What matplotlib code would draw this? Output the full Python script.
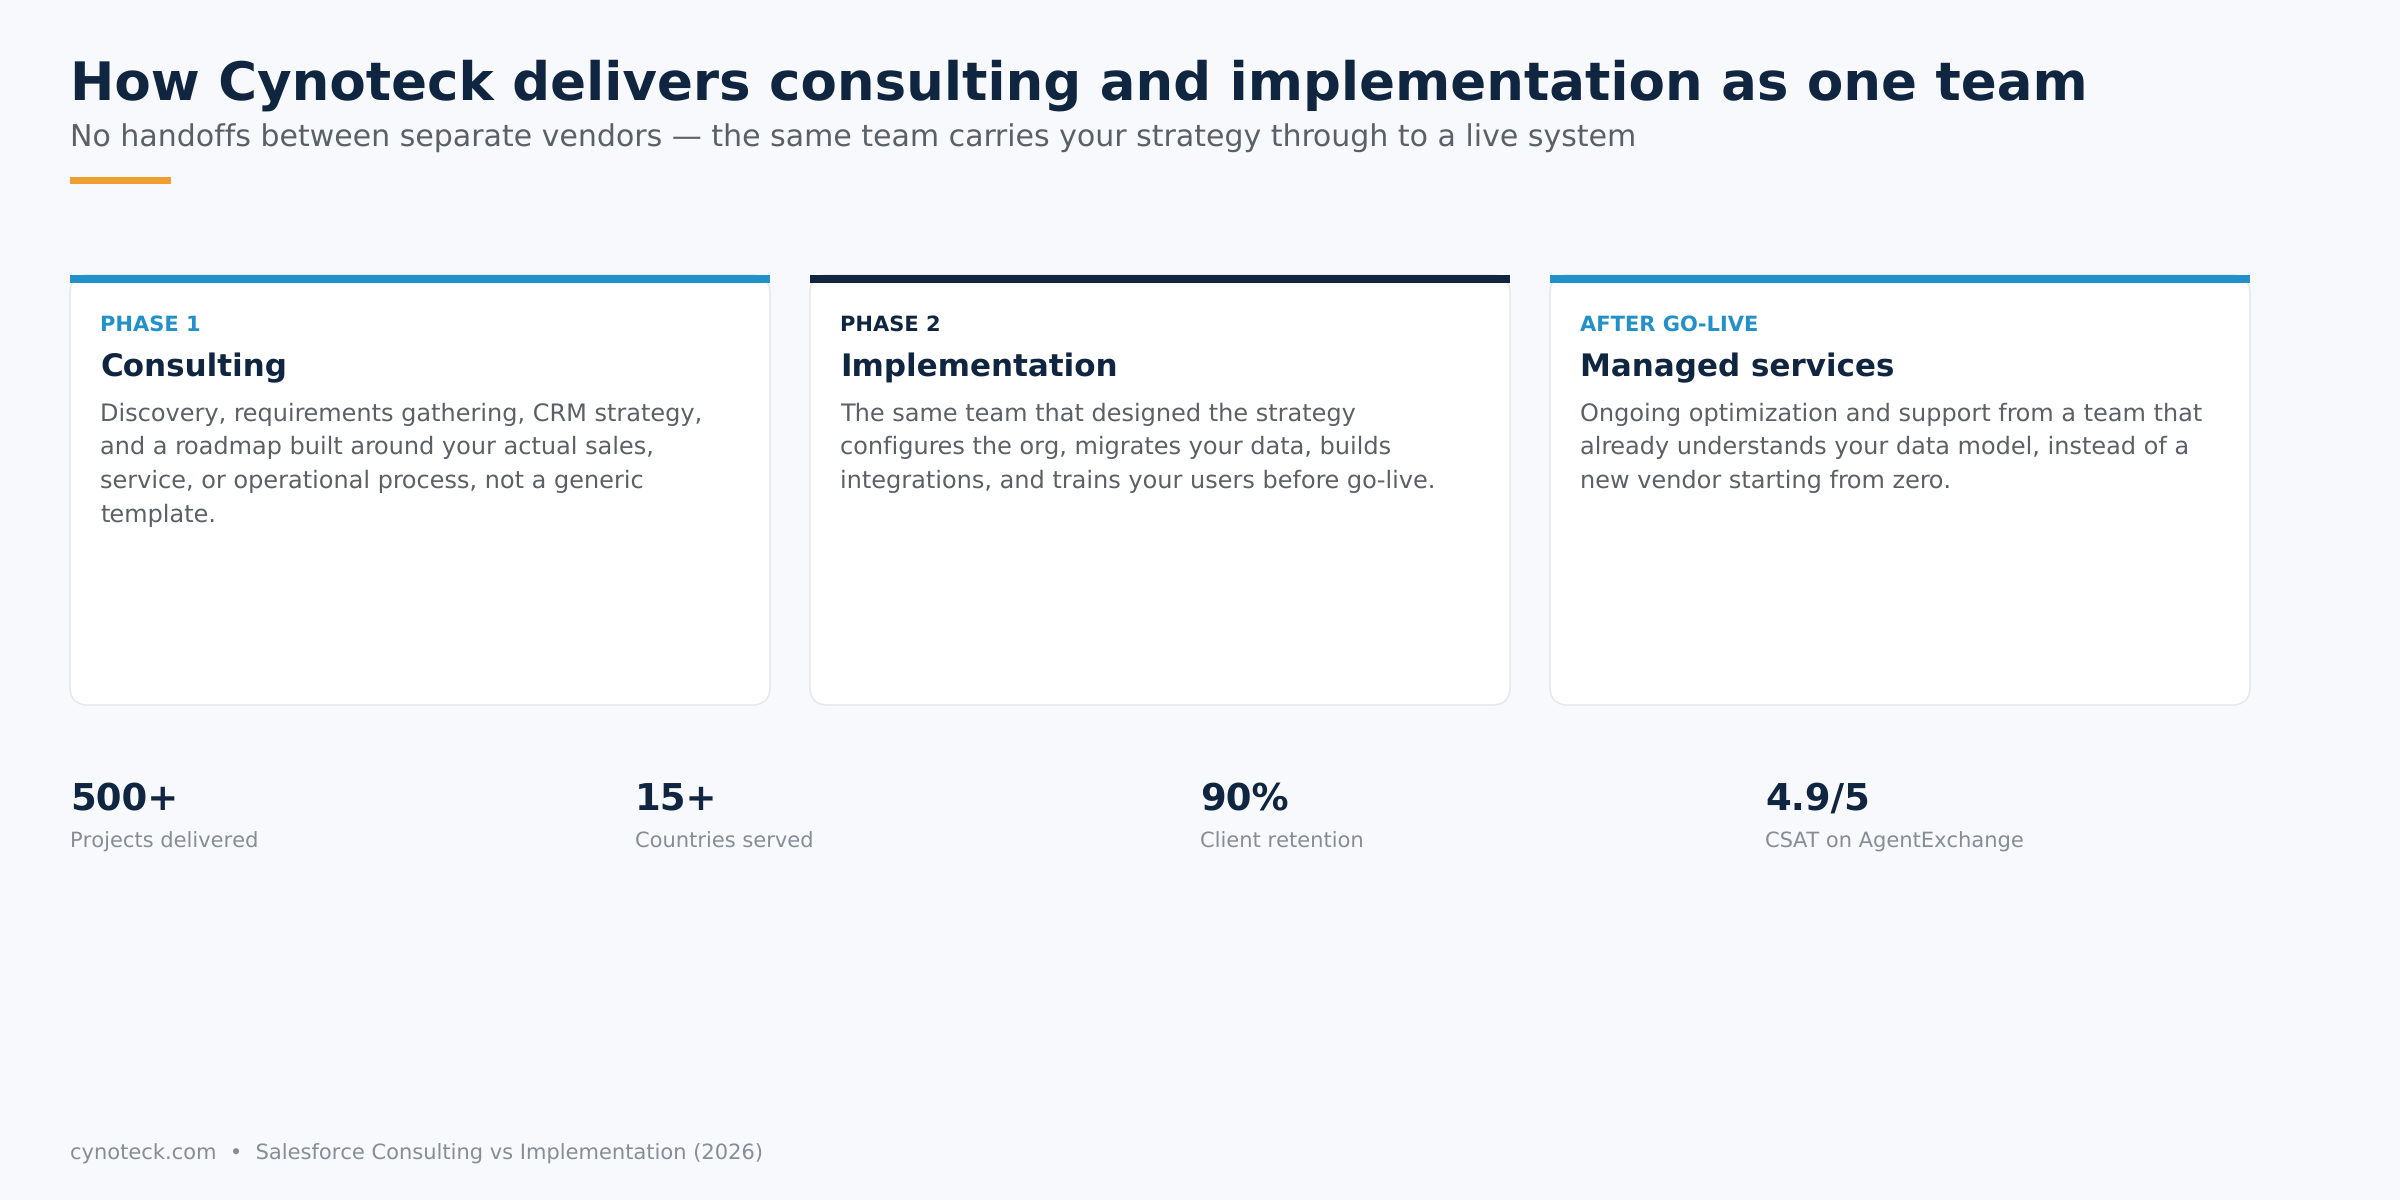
"""Cynoteck delivery model slide: three phase cards and a row of stats."""
import matplotlib
matplotlib.use("Agg")
import matplotlib.pyplot as plt
from matplotlib.patches import FancyBboxPatch, Rectangle

plt.rcParams["text.hinting"] = "no_hinting"
plt.rcParams["text.hinting_factor"] = 1

TITLE = "How Cynoteck delivers consulting and implementation as one team"
SUBTITLE = "No handoffs between separate vendors — the same team carries your strategy through to a live system"
FOOTER = "cynoteck.com  •  Salesforce Consulting vs Implementation (2026)"

card_tags = ["PHASE 1", "PHASE 2", "AFTER GO-LIVE"]
card_titles = ["Consulting", "Implementation", "Managed services"]
card_bodies = [
    ["Discovery, requirements gathering, CRM strategy,",
     "and a roadmap built around your actual sales,",
     "service, or operational process, not a generic",
     "template."],
    ["The same team that designed the strategy",
     "configures the org, migrates your data, builds",
     "integrations, and trains your users before go-live."],
    ["Ongoing optimization and support from a team that",
     "already understands your data model, instead of a",
     "new vendor starting from zero."],
]
stat_values = ["500+", "15+", "90%", "4.9/5"]
stat_labels = ["Projects delivered", "Countries served", "Client retention", "CSAT on AgentExchange"]

BG = "#f7f9fc"
NAVY = "#0f2540"
BLUE = "#2391c9"
ORANGE = "#ee9f2f"
card_colors = [BLUE, NAVY, BLUE]
tag_colors = [BLUE, NAVY, BLUE]

fig = plt.figure(figsize=(16, 8), dpi=150, facecolor=BG)
ax = fig.add_axes([0, 0, 1, 1])
ax.set_xlim(0, 2400)
ax.set_ylim(1200, 0)  # pixel coordinates, y down
ax.axis("off")

ax.text(70, 100, TITLE, fontsize=25.5, fontweight="bold", color=NAVY, va="baseline")
ax.text(70, 147, SUBTITLE, fontsize=14.4, color="#5a6068", va="baseline")
ax.add_patch(Rectangle((70, 177), 101, 7, color=ORANGE, lw=0))

for i in range(3):
    x = 70 + i * 740
    ax.add_patch(FancyBboxPatch((x, 275), 700, 430, boxstyle="round,pad=0,rounding_size=18",
                                fc="white", ec="#e6e8eb", lw=0.8))
    ax.add_patch(Rectangle((x, 275), 700, 8, color=card_colors[i], lw=0))
    ax.text(x + 30, 331, card_tags[i], fontsize=10, fontweight="bold", color=tag_colors[i], va="baseline")
    ax.text(x + 30, 376.5, card_titles[i], fontsize=14.9, fontweight="bold", color=NAVY, va="baseline")
    for j, line in enumerate(card_bodies[i]):
        ax.text(x + 30, 420.5 + j * 33.8, line, fontsize=11.52, color="#5b5f66", va="baseline")

for i in range(4):
    x = 70 + i * 565
    ax.text(x, 810, stat_values[i], fontsize=17.8, fontweight="bold", color=NAVY, va="baseline")
    ax.text(x, 848, stat_labels[i], fontsize=10, color="#868d96", va="baseline")

ax.text(70, 1160, FOOTER, fontsize=10.03, color="#868d96", va="baseline")

fig.savefig("out.png", dpi=150, facecolor=BG)
